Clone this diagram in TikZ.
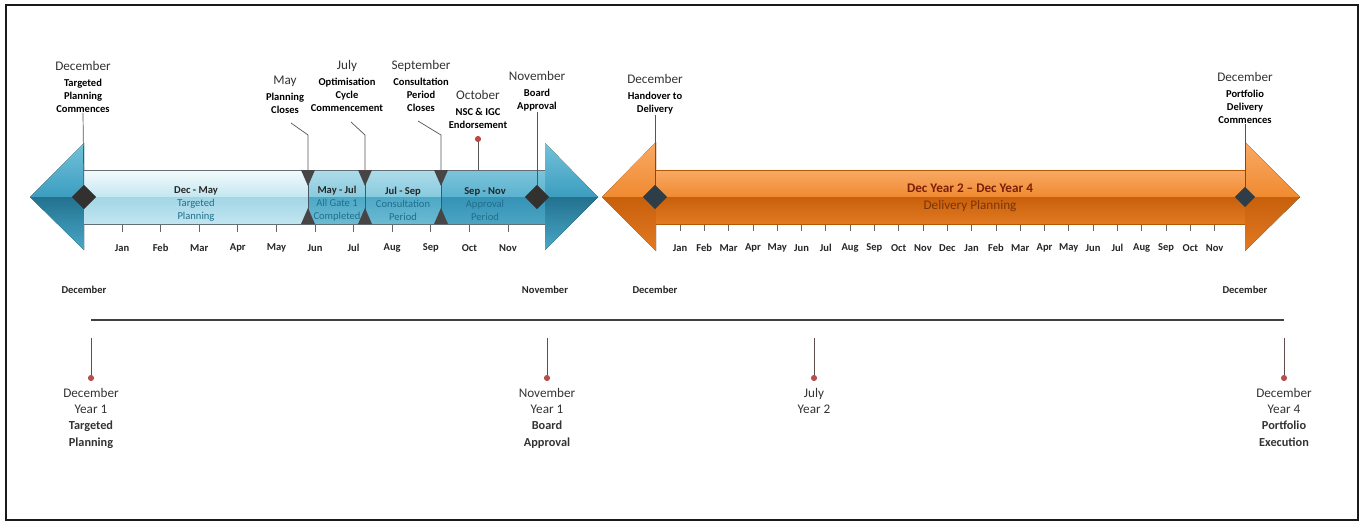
\documentclass[tikz,border=0pt]{standalone}
\usepackage{fontspec}
\setmainfont{Carlito}
\usetikzlibrary{positioning,shapes.geometric}

\definecolor{framedark}{HTML}{1A1A1A}
\definecolor{leadgray}{HTML}{555555}
\definecolor{markdark}{HTML}{333030}
\definecolor{markslate}{HTML}{2F3E46}
\definecolor{pinred}{HTML}{B5504D}
\definecolor{stemgray}{HTML}{5E4E4E}
\definecolor{segtext}{HTML}{1F6E8C}
\definecolor{deltitle}{HTML}{7A1F08}
\definecolor{deltext}{HTML}{7A3508}
% blue arrow
\definecolor{headhi}{HTML}{72C2DA}
\definecolor{headmid}{HTML}{3C9DBF}
\definecolor{headlo}{HTML}{22718F}
\definecolor{headbot}{HTML}{4AA8C8}
\definecolor{dmtop}{HTML}{F4FBFD}
\definecolor{dmmid}{HTML}{C3E6F0}
\definecolor{dmlow}{HTML}{A2D6E6}
\definecolor{dmbot}{HTML}{C2E5F0}
\definecolor{midtop}{HTML}{AEDCEA}
\definecolor{midmid}{HTML}{88CADE}
\definecolor{midlow}{HTML}{4DA8C6}
\definecolor{midbot}{HTML}{6CBAD3}
\definecolor{sntop}{HTML}{7DC4DA}
\definecolor{snmid}{HTML}{5AB2CF}
\definecolor{snlow}{HTML}{3593B5}
\definecolor{snbot}{HTML}{4CA4C3}
% orange arrow
\definecolor{orhi}{HTML}{F9A966}
\definecolor{ormid}{HTML}{F08A30}
\definecolor{orlow}{HTML}{C85F0C}
\definecolor{orbot}{HTML}{E27A22}

\begin{document}
\begin{tikzpicture}[x=0.02cm, y=-0.02cm,
    head/.style={font=\fontsize{7.5}{9}\selectfont, text=black!80, inner sep=0pt, text height=5.4pt, text depth=1.6pt},
    body/.style={font=\fontsize{6}{7.4}\selectfont\bfseries, align=center, inner sep=0pt, below=3pt of #1},
    month/.style={font=\fontsize{6}{7}\selectfont\bfseries, inner sep=0pt, text=black!85},
    leader/.style={draw=leadgray, line width=0.4pt},
    marker/.style={diamond, fill=markdark, minimum size=0.48cm, inner sep=0pt},
    pin/.style={circle, fill=pinred, minimum size=3.5pt, inner sep=0pt},
    seg/.style={font=\fontsize{6}{7.4}\selectfont, align=center, text=segtext, inner sep=0pt},
    bottomlbl/.style={font=\fontsize{7.5}{9.2}\selectfont, align=center, text=black!80, inner sep=0pt, anchor=north}]
  \useasboundingbox (0,0) rectangle (1364,524);

  % outer frame
  \draw[framedark, line width=1.1pt] (6,5) rectangle (1358,520);

  % blue arrow - heads
  \fill[top color=headhi, bottom color=headmid] (30,197) -- (84,143) -- (84,197) -- cycle;
  \fill[top color=headlo, bottom color=headbot] (30,197) -- (84,250) -- (84,197) -- cycle;
  \fill[top color=headhi, bottom color=headmid] (545,143) -- (598,197) -- (545,197) -- cycle;
  \fill[top color=headlo, bottom color=headbot] (545,197) -- (598,197) -- (545,250) -- cycle;

  % blue arrow - shaft segments
  \fill[top color=dmtop, bottom color=dmmid] (84,170) rectangle (308,197);
  \fill[top color=dmlow, bottom color=dmbot] (84,197) rectangle (308,224);
  \fill[top color=midtop, bottom color=midmid] (308,170) rectangle (441,197);
  \fill[top color=midlow, bottom color=midbot] (308,197) rectangle (441,224);
  \fill[top color=sntop, bottom color=snmid] (441,170) rectangle (545,197);
  \fill[top color=snlow, bottom color=snbot] (441,197) rectangle (545,224);
  \draw[gray!70!cyan!60!black, line width=0.3pt] (84,170) -- (545,170) (84,224) -- (545,224);
  \foreach \bx in {308,365,441}{
    \draw[cyan!30!black, line width=0.3pt] (\bx,170) -- (\bx,224);
    \fill[markdark!90] (\bx-7,170) -- (\bx+7,170) -- (\bx,186) -- cycle;
    \fill[markdark!90] (\bx-7,224) -- (\bx+7,224) -- (\bx,208) -- cycle;
  }

  % orange arrow
  \fill[top color=orhi, bottom color=ormid] (602,197) -- (656,142) -- (656,197) -- cycle;
  \fill[top color=orlow, bottom color=orbot] (602,197) -- (656,251) -- (656,197) -- cycle;
  \fill[top color=orhi, bottom color=ormid] (1245,142) -- (1300,197) -- (1245,197) -- cycle;
  \fill[top color=orlow, bottom color=orbot] (1245,197) -- (1300,197) -- (1245,251) -- cycle;
  \fill[top color=orhi, bottom color=ormid] (656,170) rectangle (1245,197);
  \fill[top color=orlow, bottom color=orbot] (656,197) rectangle (1245,224);
  \draw[orange!70!black, line width=0.3pt] (656,170) -- (1245,170) (656,224) -- (1245,224);

  % segment labels
  \node[seg] (segDM) at (196,204) {\textbf{\textcolor{black!85}{Dec - May}}\\Targeted\\Planning};
  \node[seg] (segMJ) at (337,204) {\textbf{\textcolor{black!85}{May - Jul}}\\All Gate 1\\Completed};
  \node[seg] (segJS) at (403,204) {\textbf{\textcolor{black!85}{Jul - Sep}}\\Consultation\\Period};
  \node[seg] (segSN) at (485,204) {\textbf{\textcolor{black!85}{Sep - Nov}}\\Approval\\Period};
  \node[align=center, inner sep=0pt, font=\fontsize{7.5}{9.6}\selectfont] (segDel) at (970,198)
    {\textcolor{deltitle}{\bfseries Dec Year 2 -- Dec Year 4}\\\textcolor{deltext}{Delivery Planning}};

  % month ticks and labels
  \foreach \m [count=\i from 0] in {Jan,Feb,Mar,Apr,May,Jun,Jul,Aug,Sep,Oct,Nov}{
    \draw[black!60, line width=0.4pt] (122+38.6*\i,225) -- (122+38.6*\i,232);
    \node[month] (bm\i) at (122+38.6*\i,248) {\m};
  }
  \foreach \m [count=\i from 0] in {Jan,Feb,Mar,Apr,May,Jun,Jul,Aug,Sep,Oct,Nov,Dec,Jan,Feb,Mar,Apr,May,Jun,Jul,Aug,Sep,Oct,Nov}{
    \draw[black!60, line width=0.4pt] (680+24.3*\i,225) -- (680+24.3*\i,231);
    \node[month] (om\i) at (680+24.3*\i,248) {\m};
  }

  % callouts above the arrows
  \node[head] (hDec1) at (83,67) {December};
  \node[body=hDec1] (bDec1) {Targeted\\Planning\\Commences};
  \node[head] (hMay) at (285,81) {May};
  \node[body=hMay] (bMay) {Planning\\Closes};
  \node[head] (hJul) at (347,66) {July};
  \node[body=hJul] (bJul) {Optimisation\\Cycle\\Commencement};
  \node[head] (hSep) at (421,66) {September};
  \node[body=hSep] (bSep) {Consultation\\Period\\Closes};
  \node[head] (hOct) at (478,96) {October};
  \node[body=hOct] (bOct) {NSC \& IGC\\Endorsement};
  \node[head] (hNov) at (537,77) {November};
  \node[body=hNov] (bNov) {Board\\Approval};
  \node[head] (hDec2) at (655,80) {December};
  \node[body=hDec2] (bDec2) {Handover to\\Delivery};
  \node[head] (hDec3) at (1245,78) {December};
  \node[body=hDec3] (bDec3) {Portfolio\\Delivery\\Commences};

  % leader lines
  \coordinate (mayA) at (291,123);
  \coordinate (mayB) at (308,135);
  \coordinate (mayC) at (308,170);
  \coordinate (julA) at (351,122);
  \coordinate (julB) at (365,135);
  \coordinate (julC) at (365,170);
  \coordinate (sepA) at (418,121);
  \coordinate (sepB) at (441,135);
  \coordinate (sepC) at (441,170);
  \coordinate (octC) at (478,170);
  \draw[leader] (mayA) -- (mayB) -- (mayC);
  \draw[leader] (julA) -- (julB) -- (julC);
  \draw[leader] (sepA) -- (sepB) -- (sepC);
  \node[pin, fill=pinred!90!red] (octPin) at (478,139) {};
  \draw[leader] (octPin) -- (octC);

  % milestones on the arrows
  \node[marker] (mDec1) at (84,197) {};
  \node[marker] (mNov) at (537,197) {};
  \node[marker, fill=markslate] (mDec2) at (655,197) {};
  \node[marker, fill=markslate, minimum size=0.4cm] (mDec3) at (1245,197) {};
  \draw[leader] (bDec1.south) -- (mDec1.center);
  \draw[leader] (bNov.south) -- (mNov.center);
  \draw[leader] (bDec2.south) -- (mDec2.center);
  \draw[leader] (bDec3.south) -- (mDec3.center);
  \node[marker] at (84,197) {};
  \node[marker] at (537,197) {};
  \node[marker, fill=markslate] at (655,197) {};
  \node[marker, fill=markslate, minimum size=0.4cm] at (1245,197) {};

  % lower time line
  \foreach \nm/\x/\t in {sDec1/84/December, sNov/545/November, sDec2/655/December, sDec3/1245/December}
    \node[month] (\nm) at (\x,290) {\t};
  \coordinate (axisL) at (91,320);
  \coordinate (axisR) at (1284,320);
  \draw[black!75, line width=0.6pt] (axisL) -- (axisR);

  \foreach \nm/\x in {pY1/91, pNov/547, pJul/814, pY4/1284}{
    \coordinate (\nm top) at (\x,338);
    \node[pin] (\nm) at (\x,378) {};
    \draw[stemgray, line width=0.5pt] (\nm top) -- (\nm);
  }
  \node[bottomlbl] (lY1) at (91,388) {December\\Year 1\\{\fontsize{7}{9.2}\selectfont\bfseries Targeted}\\{\fontsize{7}{9.2}\selectfont\bfseries Planning}};
  \node[bottomlbl] (lNov) at (547,388) {November\\Year 1\\{\fontsize{7}{9.2}\selectfont\bfseries Board}\\{\fontsize{7}{9.2}\selectfont\bfseries Approval}};
  \node[bottomlbl] (lJul) at (814,388) {July\\Year 2};
  \node[bottomlbl] (lY4) at (1284,388) {December\\Year 4\\{\fontsize{7}{9.2}\selectfont\bfseries Portfolio}\\{\fontsize{7}{9.2}\selectfont\bfseries Execution}};
\end{tikzpicture}
\end{document}
